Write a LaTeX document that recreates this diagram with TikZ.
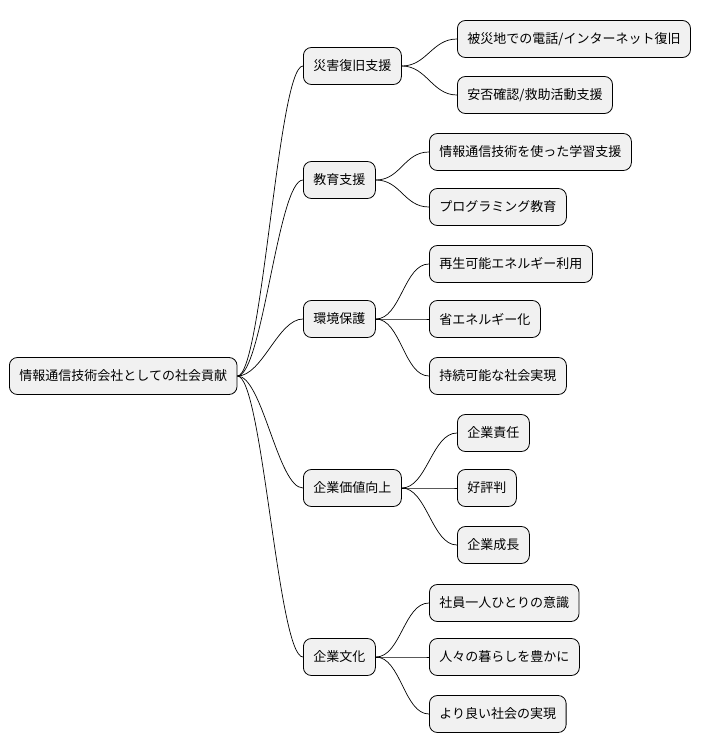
\documentclass[tikz,border=0pt]{standalone}
\usepackage{fontspec}
\setmainfont{Noto Sans CJK JP}
\begin{document}
\begin{tikzpicture}[x=1pt,y=-1pt,
  mm/.style={draw=black,fill={rgb,255:red,241;green,241;blue,241},rounded corners=8pt,line width=0.8pt,minimum height=37pt,inner xsep=10pt,font=\fontsize{13}{15}\selectfont,anchor=west},
  ln/.style={line width=0.7pt}]
\useasboundingbox (0,0) rectangle (717,752);
\node[mm] (r) at (9,376) {情報通信技術会社としての社会貢献};
\node[mm] (a) at (303,66) {災害復旧支援};
\node[mm] (b) at (303,180) {教育支援};
\node[mm] (c) at (303,319) {環境保護};
\node[mm] (d) at (303,488) {企業価値向上};
\node[mm] (e) at (303,657) {企業文化};
\node[mm] (a1) at (457,39) {被災地での電話/インターネット復旧};
\node[mm] (a2) at (457,95) {安否確認/救助活動支援};
\node[mm] (b1) at (429,152) {情報通信技術を使った学習支援};
\node[mm] (b2) at (429,207) {プログラミング教育};
\node[mm] (c1) at (429,264) {再生可能エネルギー利用};
\node[mm] (c2) at (429,319) {省エネルギー化};
\node[mm] (c3) at (429,376) {持続可能な社会実現};
\node[mm] (d1) at (457,433) {企業責任};
\node[mm] (d2) at (457,488) {好評判};
\node[mm] (d3) at (457,545) {企業成長};
\node[mm] (e1) at (429,603) {社員一人ひとりの意識};
\node[mm] (e2) at (429,657) {人々の暮らしを豊かに};
\node[mm] (e3) at (429,714) {より良い社会の実現};
\foreach \p/\c in {r/a,r/b,r/c,r/d,r/e,a/a1,a/a2,b/b1,b/b2,c/c1,c/c2,c/c3,d/d1,d/d2,d/d3,e/e1,e/e2,e/e3}
  \draw[ln] (\p.east) .. controls ([xshift=25pt]\p.east) and ([xshift=-25pt]\c.west) .. (\c.west);
\end{tikzpicture}
\end{document}
